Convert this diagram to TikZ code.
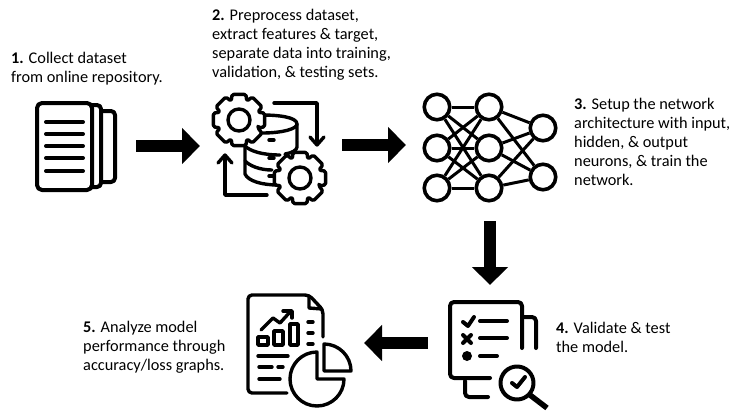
\documentclass[tikz,border=0pt]{standalone}
\usepackage{fontspec}
\setmainfont{Carlito}
\usetikzlibrary{arrows.meta}

\tikzset{
	steptext/.style={anchor=north west,align=left,inner sep=0pt,font=\fontsize{16.3}{19}\selectfont},
	bigarrow/.style={line width=12pt,-{Triangle[length=18pt,width=35pt]}},
	icon/.style={line width=4pt,line cap=round,line join=round},
	thin icon/.style={line width=3.4pt,line cap=round,line join=round},
	neuron/.style={circle,draw,fill=white,line width=3.6pt,minimum size=25.5pt,inner sep=0pt},
	nnlink/.style={line width=3pt},
	gear/.pic={
		\filldraw[fill=white,thin icon,rounded corners=1.5pt]
		(22.5:20.5)
		\foreach \a in {45,90,...,360} {
			-- (\a-15:26.5) -- (\a+15:26.5) -- (\a+22.5:20.5)
		} -- cycle;
		\draw[thin icon] (0,0) circle (11);
	}
}

\begin{document}
\begin{tikzpicture}[x=1pt,y=-1pt]
	\useasboundingbox (0,0) rectangle (736,418);

	% Подписи
	\node[steptext] (collect) at (11,52) {\textbf{1.} Collect dataset\\from online repository.};
	\node[steptext] (preprocess) at (212,9) {\textbf{2.} Preprocess dataset,\\extract features \& target,\\separate data into training,\\validation, \& testing sets.};
	\node[steptext] (setup) at (574,98) {\textbf{3.} Setup the network\\architecture with input,\\hidden, \& output\\neurons, \& train the\\network.};
	\node[steptext] (validate) at (556,322) {\textbf{4.} Validate \& test\\the model.};
	\node[steptext] (analyze) at (83,321) {\textbf{5.} Analyze model\\performance through\\accuracy/loss graphs.};

	% Стрелки
	\coordinate (a1) at (136,146);
	\coordinate (a2) at (200,146);
	\coordinate (b1) at (342,145);
	\coordinate (b2) at (406,145);
	\coordinate (c1) at (490,221);
	\coordinate (c2) at (490,285);
	\coordinate (d1) at (428,343);
	\coordinate (d2) at (364,343);
	\draw[bigarrow] (a1) -- (a2);
	\draw[bigarrow] (b1) -- (b2);
	\draw[bigarrow] (c1) -- (c2);
	\draw[bigarrow] (d1) -- (d2);

	% Документы
	\draw[icon,rounded corners=4pt] (92,105) -- (101,105) -- (101,187) -- (92,187);
	\draw[icon,rounded corners=4pt] (102,111) -- (115,111) -- (115,182) -- (102,182);
	\draw[icon,fill=white,rounded corners=5pt] (37,103) rectangle (92,190);
	\foreach \y in {122,134,146,158,171}
		\draw[icon] (46,\y) -- (83,\y);

	% База данных
	\draw[thin icon] (262,115) .. controls (278,115) and (297,117) .. (297,124) -- (297,147) .. controls (297,150) and (292,153) .. (285,154);
	\draw[thin icon] (297,124) .. controls (297,129) and (282,133) .. (262,133);
	\draw[thin icon] (245,146) -- (245,174) .. controls (248,181) and (262,185) .. (278,185);
	\draw[thin icon] (245,146) .. controls (250,151) and (262,155) .. (280,155);
	\draw[thin icon] (245,161) .. controls (250,166) and (260,170) .. (272,170);
	\foreach \y in {140,158,176}
		\draw[thin icon] (269,\y) -- (274,\y);
	\draw[thin icon] (274,103) -- (317,103) -- (317,144);
	\draw[thin icon] (310,137) -- (317,145) -- (324,137);
	\draw[thin icon] (267,195) -- (225,195) -- (225,156);
	\draw[thin icon] (218,163) -- (225,155) -- (232,163);
	\pic at (239,120) {gear};
	\pic at (300,178) {gear};

	% Нейросеть
	\foreach \y [count=\i] in {107,148,188} {
		\node[neuron] (in\i) at (437,\y) {};
		\node[neuron] (hid\i) at (489,\y) {};
	}
	\node[neuron] (out1) at (543,128) {};
	\node[neuron] (out2) at (543,177) {};
	\foreach \i in {1,2,3} {
		\foreach \j in {1,2,3}
			\draw[nnlink] (in\i) -- (hid\j);
		\foreach \j in {1,2}
			\draw[nnlink] (hid\i) -- (out\j);
	}

	% Проверка
	\draw[icon,rounded corners=4pt] (522,348) -- (522,302) -- (450,302) -- (450,378) -- (490,378);
	\draw[icon,rounded corners=4pt] (523,317) -- (536,317) -- (536,348);
	\draw[icon,rounded corners=4pt] (465,381) -- (465,397) -- (488,397);
	\draw[icon] (463,322) -- (468,326) -- (474,317);
	\draw[icon] (480,321) -- (507,321);
	\draw[icon] (463,335) -- (471,343);
	\draw[icon] (471,335) -- (463,343);
	\draw[icon] (480,338) -- (507,338);
	\fill (467,356) circle (5);
	\draw[icon] (480,356) -- (497,356);
	\draw[icon] (517,383) circle (16.5);
	\draw[line width=5.5pt] (530,395) -- (547,408);
	\draw[icon] (512,383) -- (517,387) -- (525,377);

	% Отчёт
	\draw[thin icon,rounded corners=4pt] (323,337) -- (323,310) -- (309,295) -- (248,295) -- (248,393) -- (287,393);
	\draw[thin icon] (309,296) -- (309,308) -- (322,309);
	\draw[thin icon] (308,322) -- (313,322);
	\draw[thin icon] (308,333) -- (313,333);
	\draw[thin icon] (308,344) -- (313,344);
	\draw[thin icon] (261,330) -- (273,318) -- (280,323) -- (290,312);
	\draw[thin icon] (283,311) -- (292,311) -- (292,318);
	\draw[thin icon] (258,337) rectangle (268,345);
	\draw[thin icon] (274,331) rectangle (283,345);
	\draw[thin icon] (290,324) rectangle (298,345);
	\draw[thin icon] (258,356) -- (288,356);
	\draw[thin icon] (259,367) -- (272,367);
	\draw[thin icon] (278,367) -- (283,367);
	\draw[thin icon] (259,379) -- (280,379);
	\draw[thin icon,fill=white] (317,352) -- (317,379) -- (344,379) .. controls (344,393.9) and (331.9,406) .. (317,406) .. controls (302.1,406) and (290,393.9) .. (290,379) .. controls (290,364.1) and (302.1,352) .. (317,352) -- cycle;
	\draw[thin icon] (324,344) -- (324,371) -- (351,371) .. controls (351,356.1) and (338.9,344) .. (324,344) -- cycle;
\end{tikzpicture}
\end{document}
